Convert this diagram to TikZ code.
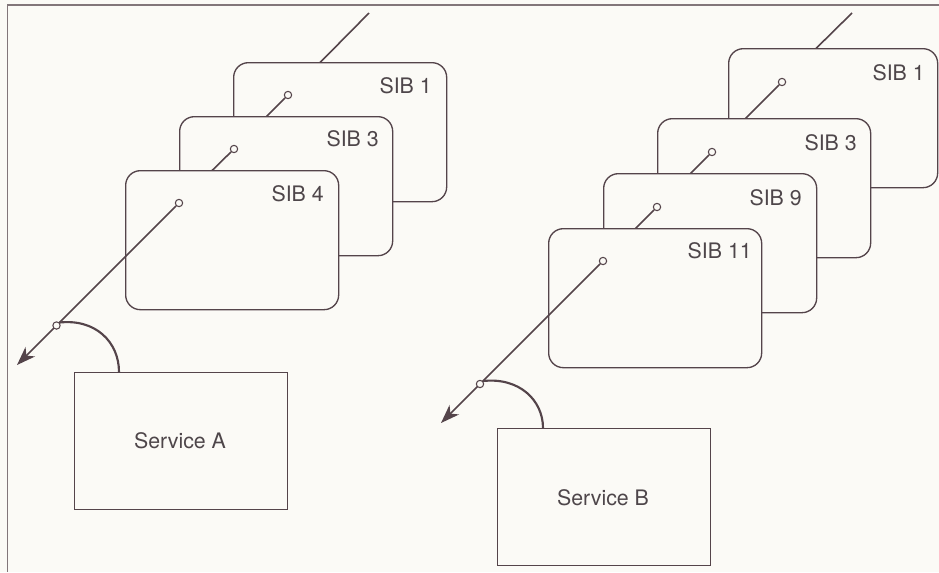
\documentclass[tikz,border=0pt]{standalone}
\usepackage{fontspec}
\setmainfont{TeX Gyre Heros}
\usetikzlibrary{arrows.meta,calc}
\definecolor{ink}{RGB}{84,68,74}
\definecolor{txt}{RGB}{78,70,74}
\definecolor{framec}{RGB}{130,118,122}
\definecolor{bg}{RGB}{251,250,246}
\tikzset{
  sib/.style={draw=ink, fill=bg, rounded corners=11pt, line width=1pt, minimum width=159.75pt, minimum height=104.25pt, anchor=north west, inner sep=0pt},
  svc/.style={draw=ink, fill=bg, line width=1pt, minimum width=159.75pt, minimum height=102.75pt, anchor=north west, inner sep=0pt},
  lbl/.style={anchor=east, inner sep=0pt, font=\fontsize{16}{19}\selectfont, text=txt},
  dot/.style={circle, draw=ink, fill=bg, inner sep=0pt, minimum size=5.5pt, line width=0.8pt},
  wire/.style={draw=ink, line width=1.2pt},
  warrow/.style={draw=ink, line width=1.2pt, -{Stealth[length=14pt,width=10pt,inset=4pt]}},
  arcline/.style={draw=ink, line width=1.6pt},
  framel/.style={draw=framec, line width=1.1pt}
}
\begin{document}
\begin{tikzpicture}[x=0.75pt,y=-0.75pt]
\fill[bg] (0,0) rectangle (939,572);
\useasboundingbox (0,0) rectangle (939,572);
\draw[framel] (939,5) -- (7.5,5) -- (7.5,572);

% ---------- left group ----------
\coordinate (lt) at (369,13);
\coordinate (lp1) at (288,95);
\coordinate (lp3) at (234,149);
\coordinate (lp4) at (179,203);
\coordinate (la) at (17,365);
\draw[wire] (lt) -- (lp1);
\node[sib] (l1) at (233,62) {};
\node[lbl] (l1t) at (432,86) {SIB 1};
\node[dot] (lc1) at (lp1) {};
\draw[wire] (lc1) -- (lp3);
\node[sib] (l3) at (179,116) {};
\node[lbl] (l3t) at (379,139) {SIB 3};
\node[dot] (lc3) at (lp3) {};
\draw[wire] (lc3) -- (lp4);
\node[sib] (l4) at (125,170) {};
\node[lbl] (l4t) at (324,194) {SIB 4};
\node[dot] (lc4) at (lp4) {};
\draw[warrow] (lc4) -- (la);
\node[dot] (lj) at (56.5,325.5) {};
\node[svc] (sA) at (74,372) {};
\node[lbl, anchor=center] (sAt) at (180,441) {Service A};
\coordinate (aA) at ($(sA.north west)+(45,0)$);
\draw[arcline] (lj.north east) .. controls +(36,-4) and +(0,-30) .. (aA);

% ---------- right group ----------
\coordinate (rt) at (852,13);
\coordinate (rp1) at (782,82);
\coordinate (rp3) at (712,152);
\coordinate (rp9) at (657,207);
\coordinate (rp11) at (603,261);
\coordinate (ra) at (441,423);
\draw[wire] (rt) -- (rp1);
\node[sib, minimum width=156.75pt] (r1) at (728,48) {};
\node[lbl] (r1t) at (925,73) {SIB 1};
\node[dot] (rc1) at (rp1) {};
\draw[wire] (rc1) -- (rp3);
\node[sib] (r3) at (657,118) {};
\node[lbl] (r3t) at (857,143) {SIB 3};
\node[dot] (rc3) at (rp3) {};
\draw[wire] (rc3) -- (rp9);
\node[sib] (r9) at (603,173) {};
\node[lbl] (r9t) at (802,198) {SIB 9};
\node[dot] (rc9) at (rp9) {};
\draw[wire] (rc9) -- (rp11);
\node[sib] (r11) at (548,228) {};
\node[lbl] (r11t) at (752,251) {SIB 11};
\node[dot] (rc11) at (rp11) {};
\draw[warrow] (rc11) -- (ra);
\node[dot] (rj) at (480,384) {};
\node[svc] (sB) at (497,428) {};
\node[lbl, anchor=center] (sBt) at (603,498) {Service B};
\coordinate (aB) at ($(sB.north west)+(46,0)$);
\draw[arcline] (rj.north east) .. controls +(36,-4) and +(0,-28) .. (aB);
\end{tikzpicture}
\end{document}
